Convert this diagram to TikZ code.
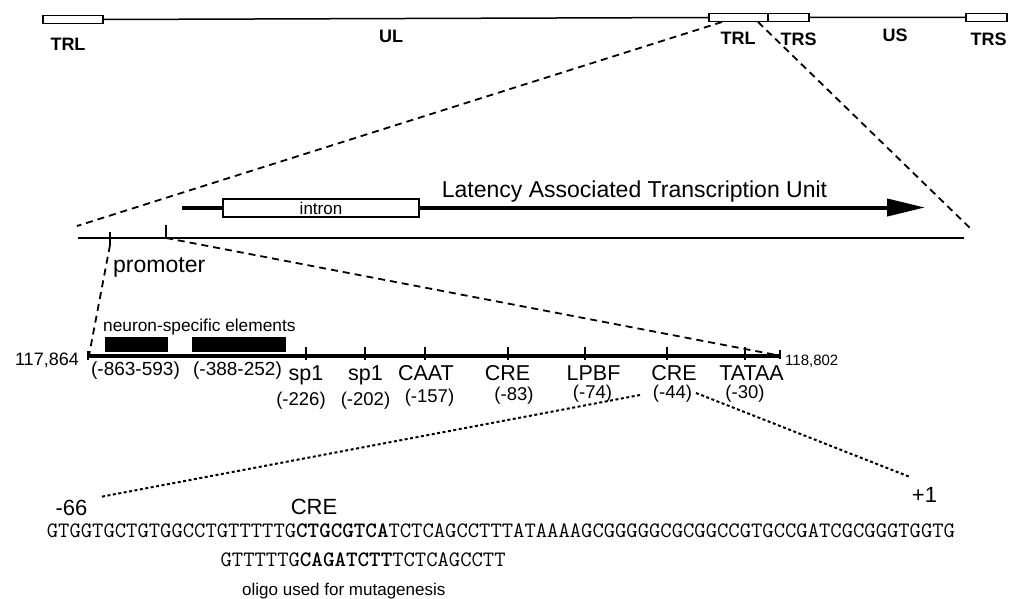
\documentclass[tikz,border=0pt]{standalone}
\usepackage{fontspec}
\setmainfont{Liberation Sans}
\usetikzlibrary{arrows.meta}
\newcommand\myfs[1]{\fontsize{#1}{#1}\selectfont}
\begin{document}
\begin{tikzpicture}[x=1pt,y=-1pt,
  lab/.style={inner sep=0pt, anchor=base},
  labw/.style={inner sep=0pt, anchor=base west},
  toplab/.style={lab, font=\myfs{18}\bfseries},
  gbox/.style={draw, line width=1.5pt, fill=white, inner sep=0pt, minimum height=8pt},
  blk/.style={fill=black, inner sep=0pt, minimum height=15pt},
  zoomdash/.style={line width=1.8pt, dash pattern=on 7pt off 5pt},
  zoomdot/.style={line width=2pt, dash pattern=on 3pt off 2.5pt},
  tick/.style={line width=1.6pt},
  elab/.style={lab, font=\myfs{21.5}},
  plab/.style={lab, font=\myfs{18.5}},
  blab/.style={lab, font=\myfs{22}},
  seqlab/.style={labw, font=\ttfamily\myfs{22}}]
\useasboundingbox (0,0) rectangle (1009,599);

% ---------- genome map ----------
\node[gbox, minimum width=60pt] (bTRL1) at (73,19.5) {};
\node[gbox, minimum width=59pt] (bTRL2) at (738.5,17.5) {};
\node[gbox, minimum width=41pt] (bTRS1) at (788.5,17.5) {};
\node[gbox, minimum width=41pt] (bTRS2) at (986.5,17.5) {};
\draw[line width=1.5pt] (bTRL1.east) -- (bTRL2.west) (bTRS1.east) -- (bTRS2.west);

\node[toplab] (tTRL1) at (68,50.5) {TRL};
\node[toplab] (tUL) at (391,43) {UL};
\node[toplab] (tTRL2) at (738,45) {TRL};
\node[toplab] (tTRS1) at (798.5,45.5) {TRS};
\node[toplab] (tUS) at (895,42) {US};
\node[toplab] (tTRS2) at (988.5,45.5) {TRS};

% ---------- expanded region ----------
\coordinate (z1) at (722,22);
\coordinate (z2) at (758,22);
\coordinate (m1) at (77,226);
\coordinate (m2) at (970,228);
\draw[zoomdash] (z1) -- (m1);
\draw[zoomdash] (z2) -- (m2);

\coordinate (ml) at (78,238);
\coordinate (mr) at (964,238);
\draw[line width=1.8pt] (ml) -- (mr);

\coordinate (t1a) at (110,232);
\coordinate (t1b) at (110,245);
\coordinate (t2a) at (166,225);
\coordinate (t2b) at (166,238);
\draw[tick] (t1a) -- (t1b);
\draw[tick] (t2a) -- (t2b);

\coordinate (ts) at (182,207.5);
\coordinate (te) at (925,207.5);
\draw[line width=4pt, -{Triangle[length=38pt,width=17pt]}] (ts) -- (te);
\node[draw, fill=white, line width=1.5pt, minimum width=196pt, minimum height=18pt,
      inner sep=0pt, font=\myfs{17}] (intron) at (321,208) {intron};
\node[lab, font=\myfs{23}] (latu) at (634.5,197) {Latency Associated Transcription Unit};

\node[labw, font=\myfs{23}] (prom) at (113,272) {promoter};

% ---------- promoter ----------
\coordinate (pl) at (89,355.5);
\coordinate (pr) at (779,355.5);
\draw[zoomdash] (t1b) -- (pl);
\draw[zoomdash] (t2b) -- (pr);
\draw[line width=4pt] (pl) -- (pr);
\draw[tick] (88,351) -- (88,360);
\draw[tick] (780,350) -- (780,359);
\foreach \x in {306,365,425,508,585,667,745}
  \draw[tick] (\x,347) -- (\x,360);

\node[blk, minimum width=63pt] (ns1) at (136.5,344.5) {};
\node[blk, minimum width=94pt] (ns2) at (239,344.5) {};
\node[labw, font=\myfs{17.3}] (nse) at (103,331) {neuron-specific elements};

\node[lab, anchor=base east, font=\myfs{18}] (c1) at (79,365) {117,864};
\node[labw, font=\myfs{15}] (c2) at (785,365) {118,802};

\node[lab, font=\myfs{19}] (r1) at (135.5,375) {(-863-593)};
\node[lab, font=\myfs{19}] (r2) at (237.5,375) {(-388-252)};

\node[elab] (e1) at (306,380) {sp1};
\node[elab] (e2) at (365.5,380) {sp1};
\node[elab] (e3) at (426,380) {CAAT};
\node[elab] (e4) at (507.5,380) {CRE};
\node[elab] (e5) at (593.5,380) {LPBF};
\node[elab] (e6) at (674,380) {CRE};
\node[elab] (e7) at (751.5,380) {TATAA};

\node[plab] (n1) at (301,405) {(-226)};
\node[plab] (n2) at (365.5,405) {(-202)};
\node[plab] (n3) at (429.5,402) {(-157)};
\node[plab] (n4) at (514,400) {(-83)};
\node[plab] (n5) at (592.5,398.5) {(-74)};
\node[plab] (n6) at (672.5,398) {(-44)};
\node[plab] (n7) at (745,398) {(-30)};

% ---------- sequence ----------
\coordinate (d1) at (640,395);
\coordinate (d2) at (100,497);
\coordinate (d3) at (696,393);
\coordinate (d4) at (910,477);
\draw[zoomdot] (d1) -- (d2);
\draw[zoomdot] (d3) -- (d4);

\node[blab] (s66) at (71.5,515) {-66};
\node[blab] (scre) at (314,514.5) {CRE};
\node[blab] (sp1) at (924.5,502.7) {+1};

\node[seqlab] (seq1) at (46.7,537)
  {GTGGTGCTGTGGCCTGTTTTTG\textbf{CTGCGTCA}TCTCAGCCTTTATAAAAGCGGGGGCGCGGCCGTGCCGATCGCGGGTGGTG};
\node[seqlab] (seq2) at (220.4,566.7)
  {GTTTTTG\textbf{CAGATCTT}TCTCAGCCTT};

\node[labw, font=\myfs{17}] (oligo) at (242,595) {oligo used for mutagenesis};
\end{tikzpicture}
\end{document}
